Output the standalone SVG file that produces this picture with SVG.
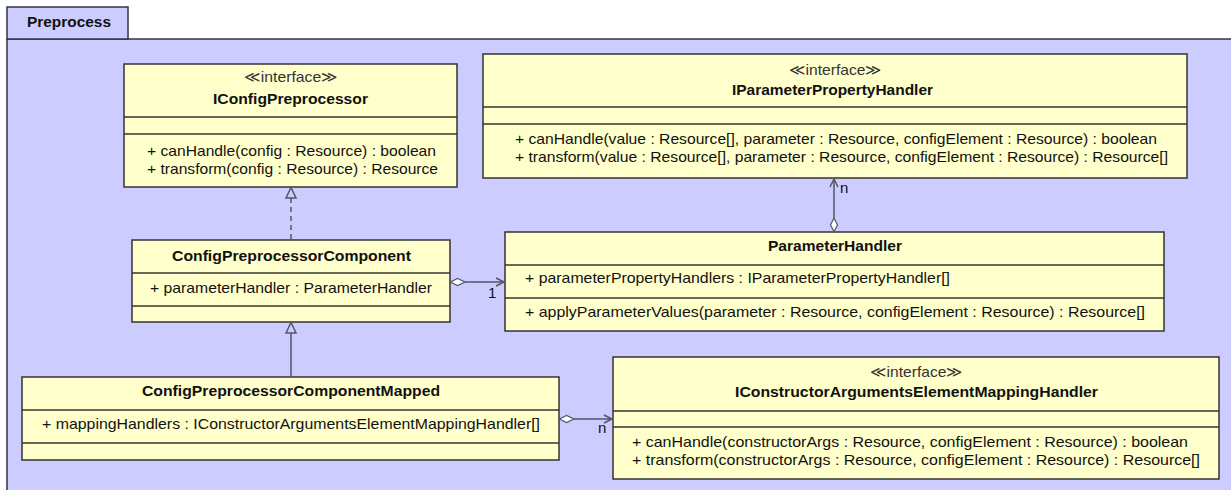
<svg xmlns="http://www.w3.org/2000/svg" width="1231" height="490" viewBox="0 0 1231 490">
<defs>
<style>
.pkg{fill:#ccccff;stroke:#333344;stroke-width:1.5}
.box{fill:#ffffcc;stroke:#333333;stroke-width:1.5}
.sep{stroke:#333333;stroke-width:1.5}
text{font-family:"Liberation Sans",Arial,sans-serif;font-size:15px;fill:#111}
.b{font-weight:bold}
.st{fill:#333}
.ln{fill:none;stroke:#555566;stroke-width:1.5}
.dash{stroke-dasharray:5,4}
.tri{fill:#ccccff;stroke:#555566;stroke-width:1.5}
.dia{fill:#ffffff;stroke:#555566;stroke-width:1.2}
</style>
</defs>
<g id="package">
<rect class="pkg" x="7" y="39" width="1240" height="470"/>
<rect class="pkg" x="7" y="7" width="121" height="32"/>
<text class="b" x="27" y="27" textLength="84" lengthAdjust="spacingAndGlyphs">Preprocess</text>
</g>
<g id="IConfigPreprocessor">
<rect class="box" x="124" y="64" width="333" height="123"/>
<line class="sep" x1="124" y1="117" x2="457" y2="117"/>
<line class="sep" x1="124" y1="134" x2="457" y2="134"/>
<text class="st" x="244" y="82" textLength="94" lengthAdjust="spacingAndGlyphs">≪interface≫</text>
<text class="b" x="213" y="104" textLength="155" lengthAdjust="spacingAndGlyphs">IConfigPreprocessor</text>
<text x="147" y="156" textLength="289" lengthAdjust="spacingAndGlyphs">+ canHandle(config : Resource) : boolean</text>
<text x="147" y="174" textLength="291" lengthAdjust="spacingAndGlyphs">+ transform(config : Resource) : Resource</text>
</g>
<g id="IParameterPropertyHandler">
<rect class="box" x="483" y="54" width="704" height="124"/>
<line class="sep" x1="483" y1="107" x2="1187" y2="107"/>
<line class="sep" x1="483" y1="124" x2="1187" y2="124"/>
<text class="st" x="789" y="75" textLength="93" lengthAdjust="spacingAndGlyphs">≪interface≫</text>
<text class="b" x="732" y="95" textLength="201" lengthAdjust="spacingAndGlyphs">IParameterPropertyHandler</text>
<text x="515" y="144" textLength="642" lengthAdjust="spacingAndGlyphs">+ canHandle(value : Resource[], parameter : Resource, configElement : Resource) : boolean</text>
<text x="515" y="162" textLength="653" lengthAdjust="spacingAndGlyphs">+ transform(value : Resource[], parameter : Resource, configElement : Resource) : Resource[]</text>
</g>
<g id="ConfigPreprocessorComponent">
<rect class="box" x="132" y="240" width="318" height="82"/>
<line class="sep" x1="132" y1="273" x2="450" y2="273"/>
<line class="sep" x1="132" y1="306" x2="450" y2="306"/>
<text class="b" x="172" y="261" textLength="239" lengthAdjust="spacingAndGlyphs">ConfigPreprocessorComponent</text>
<text x="150" y="293" textLength="282" lengthAdjust="spacingAndGlyphs">+ parameterHandler : ParameterHandler</text>
</g>
<g id="ParameterHandler">
<rect class="box" x="505" y="232" width="659" height="99"/>
<line class="sep" x1="505" y1="265" x2="1164" y2="265"/>
<line class="sep" x1="505" y1="298" x2="1164" y2="298"/>
<text class="b" x="768" y="251" textLength="134" lengthAdjust="spacingAndGlyphs">ParameterHandler</text>
<text x="525" y="283" textLength="425" lengthAdjust="spacingAndGlyphs">+ parameterPropertyHandlers : IParameterPropertyHandler[]</text>
<text x="525" y="317" textLength="620" lengthAdjust="spacingAndGlyphs">+ applyParameterValues(parameter : Resource, configElement : Resource) : Resource[]</text>
</g>
<g id="ConfigPreprocessorComponentMapped">
<rect class="box" x="22" y="377" width="537" height="83"/>
<line class="sep" x1="22" y1="410" x2="559" y2="410"/>
<line class="sep" x1="22" y1="443" x2="559" y2="443"/>
<text class="b" x="142" y="396" textLength="298" lengthAdjust="spacingAndGlyphs">ConfigPreprocessorComponentMapped</text>
<text x="42" y="429" textLength="498" lengthAdjust="spacingAndGlyphs">+ mappingHandlers : IConstructorArgumentsElementMappingHandler[]</text>
</g>
<g id="IConstructorArgumentsElementMappingHandler">
<rect class="box" x="613" y="357" width="606" height="122"/>
<line class="sep" x1="613" y1="411" x2="1219" y2="411"/>
<line class="sep" x1="613" y1="427" x2="1219" y2="427"/>
<text class="st" x="870" y="377" textLength="93" lengthAdjust="spacingAndGlyphs">≪interface≫</text>
<text class="b" x="735" y="397" textLength="363" lengthAdjust="spacingAndGlyphs">IConstructorArgumentsElementMappingHandler</text>
<text x="632" y="447" textLength="556" lengthAdjust="spacingAndGlyphs">+ canHandle(constructorArgs : Resource, configElement : Resource) : boolean</text>
<text x="632" y="465" textLength="568" lengthAdjust="spacingAndGlyphs">+ transform(constructorArgs : Resource, configElement : Resource) : Resource[]</text>
</g>
<g id="connectors">
<line class="ln dash" x1="291" y1="198" x2="291" y2="240"/>
<polygon class="tri" points="291,187.5 286,198 296,198"/>
<line class="ln" x1="291" y1="333" x2="291" y2="377"/>
<polygon class="tri" points="291,322.5 286,333 296,333"/>
<line class="ln" x1="465" y1="282" x2="504" y2="282"/>
<polygon class="dia" points="450.5,282 457.5,278.5 465,282 457.5,285.5"/>
<polyline class="ln" points="496,278 504,282 496,286"/>
<text x="488" y="298">1</text>
<line class="ln" x1="834" y1="179" x2="834" y2="218"/>
<polygon class="dia" points="834,231.5 830.5,225 834,218 837.5,225"/>
<polyline class="ln" points="830,187 834,179 838,187"/>
<text x="840" y="193">n</text>
<line class="ln" x1="574" y1="419" x2="612" y2="419"/>
<polygon class="dia" points="559.5,419 566.5,415.5 574,419 566.5,422.5"/>
<polyline class="ln" points="604,415 612,419 604,423"/>
<text x="598" y="433">n</text>
</g>
</svg>
